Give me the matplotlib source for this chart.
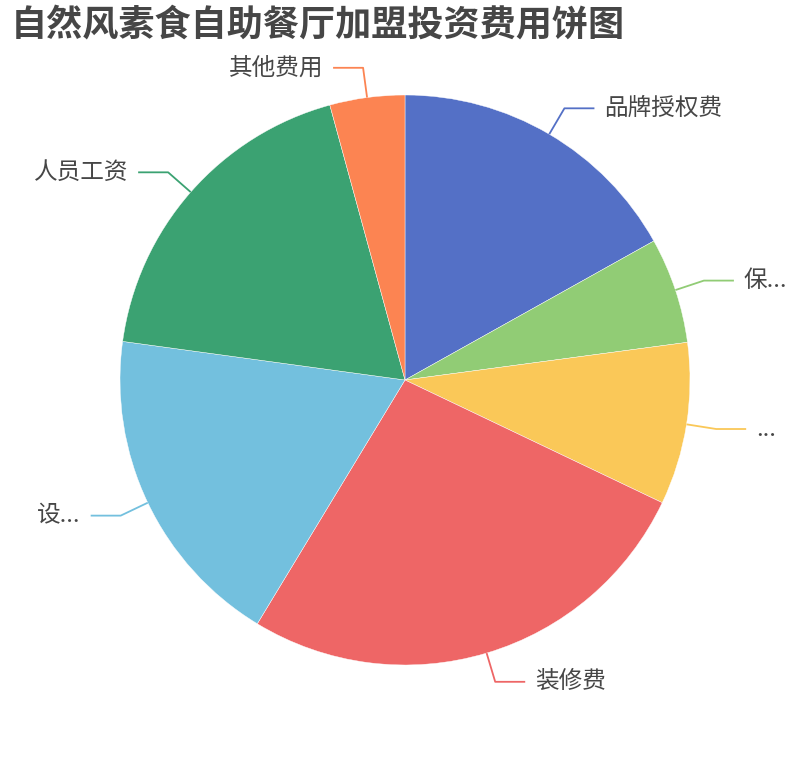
import math
import matplotlib
matplotlib.use("Agg")
import matplotlib.pyplot as plt

plt.rcParams['font.family'] = ['Noto Sans CJK SC', 'DejaVu Sans']

title = "自然风素食自助餐厅加盟投资费用饼图"
categories = ["品牌授权费", "保...", "...", "装修费", "设...", "人员工资", "其他费用"]
values = [16.9, 6.0, 9.2, 26.6, 18.5, 18.6, 4.25]
colors = ["#5470c6", "#91cc75", "#fac858", "#ee6666", "#73c0de", "#3ba272", "#fc8452"]

W, H = 810, 760
fig = plt.figure(figsize=(W / 100, H / 100), dpi=100)
ax = fig.add_axes([0, 0, 1, 1])
ax.set_xlim(0, W)
ax.set_ylim(0, H)
ax.set_aspect('equal')
ax.axis('off')

cx, cy, R = 405, H - 380, 285
wedges, _ = ax.pie(values, colors=colors, startangle=90, counterclock=False,
                   center=(cx, cy), radius=R,
                   wedgeprops=dict(linewidth=0.3, edgecolor='white'))
ax.set_xlim(0, W)
ax.set_ylim(0, H)

for w, lab, col in zip(wedges, categories, colors):
    mid = math.radians((w.theta1 + w.theta2) / 2)
    dx, dy = math.cos(mid), math.sin(mid)
    x0, y0 = cx + R * dx, cy + R * dy
    x1, y1 = cx + (R + 30) * dx, cy + (R + 30) * dy
    side = 1 if dx >= 0 else -1
    x2 = x1 + side * 30
    ax.plot([x0, x1, x2], [y0, y1, y1], color=col, lw=1.3, solid_capstyle='butt')
    ax.text(x2 + side * 10, y1, lab, ha='left' if side > 0 else 'right', va='center',
            fontsize=17, color='#464646')

fig.text(11 / W, 1 - 25 / H, title, ha='left', va='center', fontsize=26,
         fontweight='bold', color='#464646')

fig.savefig("out.png", dpi=100)
